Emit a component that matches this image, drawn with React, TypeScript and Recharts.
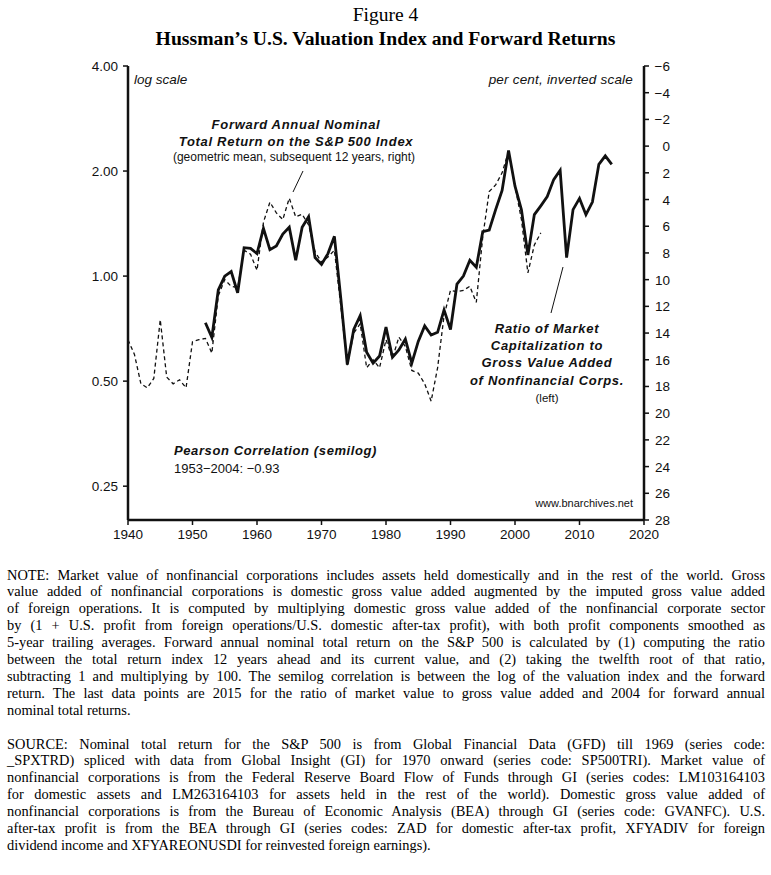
import React from 'react';
import { LineChart, Line, XAxis, YAxis } from 'recharts';

// ---------- data ----------
const ratioYears = [
  1952, 1953, 1954, 1955, 1956, 1957, 1958, 1959, 1960, 1961, 1962, 1963, 1964, 1965, 1966, 1967,
  1968, 1969, 1970, 1971, 1972, 1973, 1974, 1975, 1976, 1977, 1978, 1979, 1980, 1981, 1982, 1983,
  1984, 1985, 1986, 1987, 1988, 1989, 1990, 1991, 1992, 1993, 1994, 1995, 1996, 1997, 1998, 1999,
  2000, 2001, 2002, 2003, 2004, 2005, 2006, 2007, 2008, 2009, 2010, 2011, 2012, 2013, 2014, 2015,
];
const ratioValues = [
  0.735, 0.667, 0.913, 1.0, 1.03, 0.896, 1.206, 1.2, 1.16, 1.37, 1.19, 1.22, 1.32, 1.38, 1.11, 1.38,
  1.48, 1.13, 1.08, 1.16, 1.3, 0.86, 0.558, 0.703, 0.77, 0.605, 0.563, 0.59, 0.714, 0.585, 0.614, 0.66,
  0.563, 0.65, 0.72, 0.678, 0.69, 0.8, 0.703, 0.948, 1.0, 1.11, 1.06, 1.34, 1.355, 1.55, 1.76, 2.29,
  1.81, 1.55, 1.15, 1.5, 1.59, 1.69, 1.89, 2.01, 1.13, 1.55, 1.67, 1.5, 1.63, 2.09, 2.21, 2.09,
];

const returnYears = [
  1940, 1941, 1942, 1943, 1944, 1945, 1946, 1947, 1948, 1949, 1950, 1951, 1952, 1953, 1954, 1955,
  1956, 1957, 1958, 1959, 1960, 1961, 1962, 1963, 1964, 1965, 1966, 1967, 1968, 1969, 1970, 1971,
  1972, 1973, 1974, 1975, 1976, 1977, 1978, 1979, 1980, 1981, 1982, 1983, 1984, 1985, 1986, 1987,
  1988, 1989, 1990, 1991, 1992, 1993, 1994, 1995, 1996, 1997, 1998, 1999, 2000, 2001, 2002, 2003,
  2004,
];
const returnValues = [
  14.5, 15.6, 17.8, 18.1, 17.4, 13.0, 17.3, 17.8, 17.5, 18.1, 14.65, 14.5, 14.4, 15.5, 11.2, 10.0,
  10.5, 10.6, 7.8, 8.1, 9.3, 5.7, 4.2, 5.0, 5.5, 3.9, 5.3, 5.1, 5.9, 7.9, 8.7, 8.3,
  7.8, 12.0, 16.4, 14.0, 13.3, 16.6, 16.0, 16.6, 14.5, 15.9, 14.3, 15.0, 16.8, 17.0, 17.8, 19.1,
  16.6, 12.7, 10.8, 10.9, 10.8, 10.5, 11.7, 6.8, 3.4, 2.9, 2.0, 0.4, 3.0, 5.5, 9.5, 7.4,
  6.5,
];

const yearTicks = [1940, 1950, 1960, 1970, 1980, 1990, 2000, 2010, 2020];
const yearMinorTicks = [
  1942, 1944, 1946, 1948, 1952, 1954, 1956, 1958, 1962, 1964, 1966, 1968, 1972, 1974, 1976, 1978,
  1982, 1984, 1986, 1988, 1992, 1994, 1996, 1998, 2002, 2004, 2006, 2008, 2012, 2014, 2016, 2018,
];
const leftTicks = [0.25, 0.5, 1, 2, 4];
const leftTickLabels = ['0.25', '0.50', '1.00', '2.00', '4.00'];
const leftMinorTicks = [0.3, 0.4, 0.6, 0.7, 0.8, 0.9, 3];
const rightTicks = [-6, -4, -2, 0, 2, 4, 6, 8, 10, 12, 14, 16, 18, 20, 22, 24, 26, 28];
const rightMinorTicks = [-5, -3, -1, 1, 3, 5, 7, 9, 11, 13, 15, 17, 19, 21, 23, 25, 27];

const noteLines = [
  'NOTE: Market value of nonfinancial corporations includes assets held domestically and in the rest of the world. Gross',
  'value added of nonfinancial corporations is domestic gross value added augmented by the imputed gross value added',
  'of foreign operations. It is computed by multiplying domestic gross value added of the nonfinancial corporate sector',
  'by (1 + U.S. profit from foreign operations/U.S. domestic after-tax profit), with both profit components smoothed as',
  '5-year trailing averages. Forward annual nominal total return on the S&P 500 is calculated by (1) computing the ratio',
  'between the total return index 12 years ahead and its current value, and (2) taking the twelfth root of that ratio,',
  'subtracting 1 and multiplying by 100. The semilog correlation is between the log of the valuation index and the forward',
  'return. The last data points are 2015 for the ratio of market value to gross value added and 2004 for forward annual',
  'nominal total returns.',
];
const sourceLines = [
  'SOURCE: Nominal total return for the S&P 500 is from Global Financial Data (GFD) till 1969 (series code:',
  '_SPXTRD) spliced with data from Global Insight (GI) for 1970 onward (series code: SP500TRI). Market value of',
  'nonfinancial corporations is from the Federal Reserve Board Flow of Funds through GI (series codes: LM103164103',
  'for domestic assets and LM263164103 for assets held in the rest of the world). Domestic gross value added of',
  'nonfinancial corporations is from the Bureau of Economic Analysis (BEA) through GI (series code: GVANFC). U.S.',
  'after-tax profit is from the BEA through GI (series codes: ZAD for domestic after-tax profit, XFYADIV for foreign',
  'dividend income and XFYAREONUSDI for reinvested foreign earnings).',
];

const ratioTable = ratioYears.map((y, i) => ({ year: y, ratio: ratioValues[i] }));
const returnTable = returnYears.map((y, i) => ({ year: y, ret: returnValues[i] }));

const SANS = '"Liberation Sans", Arial, Helvetica, sans-serif';
const SERIF = '"Liberation Serif", "Times New Roman", serif';

const RightTick = (props: any) => {
  const { x, y, payload } = props;
  const v = payload.value as number;
  const label = v < 0 ? '\u2212' + Math.abs(v) : String(v);
  return (
    <text x={x + 18} y={y} dy={5} textAnchor="end" fontFamily={SANS} fontSize={13.5} fill="#111">
      {label}
    </text>
  );
};

const LINE_H = 16.9;

const TextLines = ({ lines, top }: { lines: string[]; top: number }) => (
  <div style={{ position: 'absolute', left: 7, top, width: 758 }}>
    {lines.map((l, i) => (
      <div
        key={i}
        style={{
          fontFamily: SERIF,
          fontSize: 14.4,
          lineHeight: LINE_H + 'px',
          height: LINE_H,
          color: '#000',
          textAlign: 'justify',
          textAlignLast: i === lines.length - 1 ? 'left' : 'justify',
          whiteSpace: 'nowrap',
          overflow: 'visible',
        }}
      >
        {l}
      </div>
    ))}
  </div>
);

export default function App() {
  return (
    <div
      style={{
        position: 'absolute',
        left: 0,
        top: 0,
        width: 771,
        height: 875,
        background: '#fff',
        overflow: 'hidden',
      }}
    >
      <div
        style={{
          position: 'absolute',
          left: 0,
          top: 4,
          width: 771,
          textAlign: 'center',
          fontFamily: SERIF,
          fontSize: 19.5,
          color: '#000',
          lineHeight: '22px',
        }}
      >
        Figure 4
      </div>
      <div
        style={{
          position: 'absolute',
          left: 0,
          top: 27,
          width: 771,
          textAlign: 'center',
          fontFamily: SERIF,
          fontSize: 19.7,
          fontWeight: 'bold',
          color: '#000',
          lineHeight: '22px',
        }}
      >
        Hussman’s U.S. Valuation Index and Forward Returns
      </div>

      <div style={{ position: 'absolute', left: 0, top: 0 }}>
        <LineChart width={771} height={560} margin={{ top: 66, right: 77, bottom: 10, left: 78 }}>
          <XAxis
            xAxisId="bottom"
            dataKey="year"
            type="number"
            domain={[1940, 2020]}
            ticks={yearTicks}
            allowDataOverflow
            height={30}
            tickSize={5}
            tickMargin={4}
            axisLine={{ stroke: '#111', strokeWidth: 2.5 }}
            tickLine={{ stroke: '#111', strokeWidth: 1.5 }}
            tick={{ fontFamily: SANS, fontSize: 13.5, fill: '#111' }}
          />
          <XAxis
            xAxisId="bottomMinor"
            dataKey="year"
            type="number"
            orientation="bottom"
            mirror
            domain={[1940, 2020]}
            ticks={yearMinorTicks}
            allowDataOverflow
            height={0}
            tickSize={4}
            axisLine={false}
            tickLine={{ stroke: '#111', strokeWidth: 1.5 }}
            tick={false}
          />
          <XAxis
            xAxisId="top"
            dataKey="year"
            type="number"
            orientation="top"
            domain={[1940, 2020]}
            allowDataOverflow
            height={0}
            axisLine={{ stroke: '#111', strokeWidth: 2.5 }}
            tickLine={false}
            tick={false}
          />
          <YAxis
            yAxisId="left"
            orientation="left"
            scale="log"
            domain={[0.2, 4]}
            allowDataOverflow
            ticks={leftTicks}
            width={50}
            tickSize={5}
            tickMargin={5}
            axisLine={{ stroke: '#111', strokeWidth: 2.5 }}
            tickLine={{ stroke: '#111', strokeWidth: 1.5 }}
            tickFormatter={(v: number) => leftTickLabels[leftTicks.indexOf(v)] ?? String(v)}
            tick={{ fontFamily: SANS, fontSize: 13.5, fill: '#111' }}
          />
          <YAxis
            yAxisId="leftMinor"
            orientation="left"
            mirror
            scale="log"
            domain={[0.2, 4]}
            allowDataOverflow
            ticks={leftMinorTicks}
            width={0}
            tickSize={4}
            axisLine={false}
            tickLine={{ stroke: '#111', strokeWidth: 1.5 }}
            tick={false}
          />
          <YAxis
            yAxisId="right"
            orientation="right"
            domain={[-6, 28]}
            reversed
            allowDataOverflow
            ticks={rightTicks}
            interval={0}
            width={50}
            tickSize={5}
            tickMargin={3}
            axisLine={{ stroke: '#111', strokeWidth: 2.5 }}
            tickLine={{ stroke: '#111', strokeWidth: 1.5 }}
            tick={<RightTick />}
          />
          <YAxis
            yAxisId="rightMinor"
            orientation="right"
            mirror
            domain={[-6, 28]}
            reversed
            allowDataOverflow
            ticks={rightMinorTicks}
            interval={0}
            width={0}
            tickSize={4}
            axisLine={false}
            tickLine={{ stroke: '#111', strokeWidth: 1.5 }}
            tick={false}
          />
          <Line
            data={returnTable}
            xAxisId="bottom"
            yAxisId="right"
            dataKey="ret"
            type="linear"
            stroke="#111"
            strokeWidth={1.3}
            strokeDasharray="4 3"
            dot={false}
            isAnimationActive={false}
          />
          <Line
            data={ratioTable}
            xAxisId="bottom"
            yAxisId="left"
            dataKey="ratio"
            type="linear"
            stroke="#111"
            strokeWidth={2.8}
            strokeLinejoin="miter"
            dot={false}
            isAnimationActive={false}
          />
        </LineChart>
      </div>

      <svg
        width={771}
        height={560}
        style={{ position: 'absolute', left: 0, top: 0, pointerEvents: 'none' }}
        fontFamily={SANS}
        fill="#111"
      >
        <text x={134} y={84} fontSize={13.5} fontStyle="italic">log scale</text>
        <text x={633} y={84} fontSize={13.5} fontStyle="italic" textAnchor="end" letterSpacing={0.2}>
          per cent, inverted scale
        </text>
        <g fontWeight="bold" fontStyle="italic" fontSize={13} letterSpacing={0.7} textAnchor="middle">
          <text x={296} y={129}>Forward Annual Nominal</text>
          <text x={296} y={146}>Total Return on the S&amp;P 500 Index</text>
        </g>
        <text x={294} y={161} fontSize={12} textAnchor="middle">
          (geometric mean, subsequent 12 years, right)
        </text>
        <line x1={293} y1={192} x2={303} y2={171} stroke="#111" strokeWidth={1} />

        <g fontWeight="bold" fontStyle="italic" fontSize={13} letterSpacing={0.7} textAnchor="middle">
          <text x={547} y={333}>Ratio of Market</text>
          <text x={547} y={350}>Capitalization to</text>
          <text x={547} y={367}>Gross Value Added</text>
          <text x={547} y={385}>of Nonfinancial Corps.</text>
        </g>
        <text x={547} y={402} fontSize={11.5} textAnchor="middle">(left)</text>
        <line x1={551} y1={313} x2={563} y2={267} stroke="#111" strokeWidth={1} />

        <text x={174} y={455} fontSize={13} fontWeight="bold" fontStyle="italic" letterSpacing={0.6}>
          Pearson Correlation (semilog)
        </text>
        <text x={174} y={473} fontSize={13}>
          1953{'\u2212'}2004: {'\u2212'}0.93
        </text>
        <text x={633} y={507} fontSize={11} textAnchor="end">www.bnarchives.net</text>
      </svg>

      <TextLines lines={noteLines} top={566.5} />
      <TextLines lines={sourceLines} top={566.5 + 10 * LINE_H} />
    </div>
  );
}
